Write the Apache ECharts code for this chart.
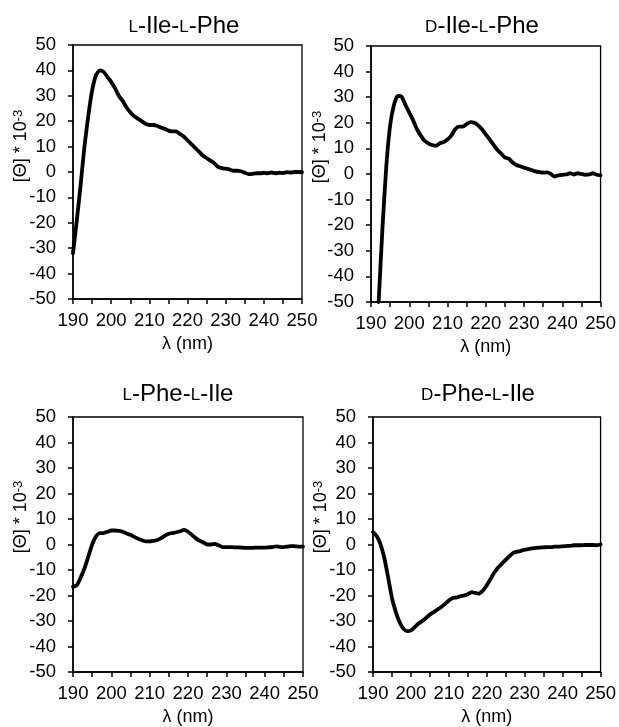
<!DOCTYPE html>
<html>
<head>
<meta charset="utf-8">
<script src="https://cdn.jsdelivr.net/npm/echarts@6/dist/echarts.min.js"></script>
<style>
html,body{margin:0;padding:0;background:#fff;}
#c{width:619px;height:727px;}
</style>
</head>
<body>
<div id="c"></div>
<script>
const wavelength = [190,191,192,193,194,195,196,197,198,199,200,201,202,203,204,205,206,207,208,209,210,211,212,213,214,215,216,217,218,219,220,221,222,223,224,225,226,227,228,229,230,231,232,233,234,235,236,237,238,239,240,241,242,243,244,245,246,247,248,249,250];

const titles = ['{s|L}{m|-Ile-}{s|L}{m|-Phe}', '{s|D}{m|-Ile-}{s|L}{m|-Phe}', '{s|L}{m|-Phe-}{s|L}{m|-Ile}', '{s|D}{m|-Phe-}{s|L}{m|-Ile}'];

const xTicks = [190, 200, 210, 220, 230, 240, 250];
const yTicks = [-50, -40, -30, -20, -10, 0, 10, 20, 30, 40, 50];

const lIleLPhe = [-32,-19,-5,10,22,32,38,40,39.5,37.5,35.5,33,30,28,25.5,23.5,22,21,20,19,18.5,18.5,18.2,17.5,17,16.3,16,16,15,14,12.5,11,9.5,8,6.5,5.5,4.5,3.5,2,1.5,1.3,1,0.5,0.5,0.3,-0.3,-0.8,-0.7,-0.5,-0.5,-0.3,-0.5,-0.2,-0.5,-0.3,-0.4,-0.1,-0.2,0,0,-0.1];

const dIleLPhe = [null,null,-50,-21,3,19,27,30.5,30.2,27,24,21,17.5,15,13,12,11.3,11,12,12.5,13.5,15,17.5,18.5,18.5,19.5,20.3,20,19,17.5,15.5,13.5,11.5,9.5,8,6.5,6,4.5,3.5,3,2.5,2,1.5,1,0.7,0.5,0.6,0,-1,-0.5,-0.3,-0.2,0.3,-0.2,0.3,0,-0.3,-0.2,0.3,-0.3,-0.5];

const lPheLIle = [-16.6,-16,-13,-9.3,-4.7,0,3.2,4.5,4.5,5,5.5,5.5,5.3,5,4.3,3.8,3,2.3,1.7,1.2,1.2,1.4,1.8,2.5,3.5,4.2,4.5,4.8,5.2,5.7,5,3.8,2.5,1.5,0.8,0,0,0.2,-0.3,-1,-1,-1,-1.1,-1.1,-1.2,-1.3,-1.3,-1.3,-1.2,-1.2,-1.2,-1.1,-1,-0.7,-0.9,-1,-0.8,-0.6,-0.7,-0.8,-0.8];

const dPheLIle = [4.9,3.2,0,-5.4,-13,-21,-26.4,-30.4,-33,-34,-33.7,-32.4,-31,-30,-28.8,-27.5,-26.5,-25.5,-24.5,-23.3,-22,-21,-20.8,-20.3,-20,-19.5,-18.7,-19,-19.3,-18,-16,-13.5,-11,-9,-7.5,-6,-4.5,-3.3,-2.8,-2.5,-2,-1.8,-1.5,-1.3,-1.2,-1.1,-1,-1,-0.8,-0.8,-0.7,-0.6,-0.5,-0.3,-0.3,-0.3,-0.2,-0.2,-0.2,-0.3,0];

const seriesValues = [lIleLPhe, dIleLPhe, lPheLIle, dPheLIle];

const FONT = 'Liberation Sans, Arial, sans-serif';

// layout (pixels)
const grids = [
  {left: 73, top: 45, width: 229, height: 254},
  {left: 371, top: 46, width: 230, height: 256},
  {left: 73, top: 417, width: 230, height: 255},
  {left: 373, top: 417, width: 230, height: 255}
];
const titlePos = [[184, 26], [482, 26], [178, 394], [478, 394]];
const yNamePos = [[21, 146], [320, 147], [21, 517], [321, 517]];

const grid = [], xAxis = [], yAxis = [], series = [], graphic = [];
grids.forEach((g, i) => {
  grid.push(Object.assign({show: true, borderColor: '#000', borderWidth: 1.3, backgroundColor: 'transparent'}, g));
  xAxis.push({
    type: 'value', gridIndex: i, min: xTicks[0], max: xTicks[xTicks.length - 1], interval: 10,
    axisLine: {show: true, onZero: false, lineStyle: {color: '#000', width: 1.5}},
    axisTick: {show: true, inside: false, length: 5, lineStyle: {color: '#000', width: 1.5}},
    minorTick: {show: true, splitNumber: 2, length: 5, lineStyle: {color: '#000', width: 1.5}},
    splitLine: {show: false},
    axisLabel: {color: '#000', fontSize: 18.5, fontFamily: FONT, margin: 12},
    name: 'λ (nm)', nameLocation: 'middle', nameGap: 36,
    nameTextStyle: {color: '#000', fontSize: 18, fontFamily: FONT}
  });
  yAxis.push({
    type: 'value', gridIndex: i, min: yTicks[0], max: yTicks[yTicks.length - 1], interval: 10,
    axisLine: {show: true, onZero: false, lineStyle: {color: '#000', width: 1.5}},
    axisTick: {show: true, inside: false, length: 5, lineStyle: {color: '#000', width: 1.5}},
    splitLine: {show: false},
    axisLabel: {color: '#000', fontSize: 18.5, fontFamily: FONT, margin: 17}
  });
  series.push({
    type: 'line', xAxisIndex: i, yAxisIndex: i, showSymbol: false, symbol: 'none',
    clip: true, smooth: 0.2,
    lineStyle: {color: '#000', width: 3.8, cap: 'round', join: 'round'},
    data: wavelength.map((w, k) => [w, seriesValues[i][k]])
  });
  graphic.push({
    type: 'text', x: titlePos[i][0], y: titlePos[i][1],
    style: {
      text: titles[i], textAlign: 'center', textVerticalAlign: 'middle',
      fill: '#000', fontSize: 24, fontFamily: FONT,
      rich: {
        m: {fontSize: 24, lineHeight: 24, fontFamily: FONT, verticalAlign: 'bottom'},
        s: {fontSize: 17, lineHeight: 17, fontFamily: FONT, verticalAlign: 'bottom', padding: [0, 0, 2, 0]}
      }
    }
  });
  graphic.push({
    type: 'text', x: yNamePos[i][0], y: yNamePos[i][1], rotation: Math.PI / 2,
    style: {
      text: '[Θ] * 10{sup|-3}', textAlign: 'center', textVerticalAlign: 'middle',
      fill: '#000', fontSize: 18, fontFamily: FONT,
      rich: {sup: {fontSize: 13, fontFamily: FONT, verticalAlign: 'top'}}
    }
  });
});

const chart = echarts.init(document.getElementById('c'), null, {renderer: 'canvas'});
chart.setOption({
  backgroundColor: '#fff',
  animation: false,
  grid, xAxis, yAxis, series, graphic
});
</script>
</body>
</html>
